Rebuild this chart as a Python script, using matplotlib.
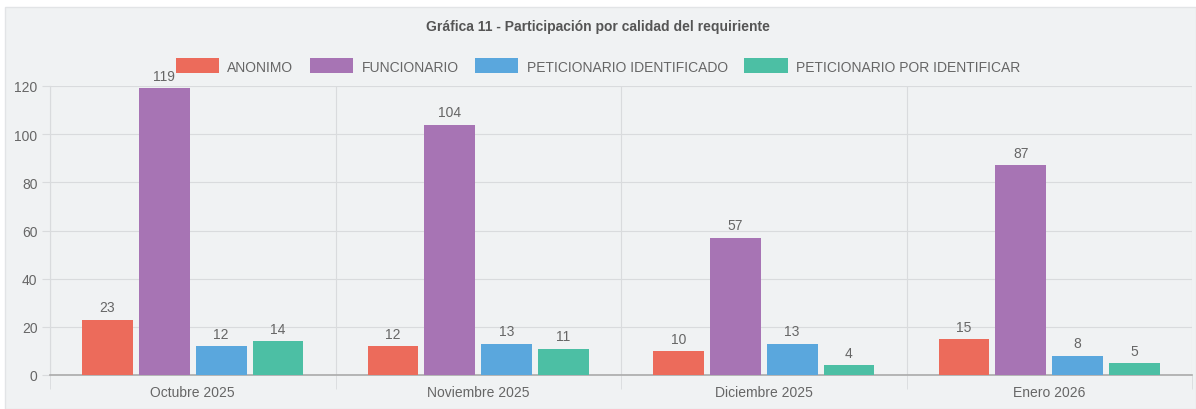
import numpy as np
import matplotlib.pyplot as plt
from matplotlib.patches import Patch, Rectangle

plt.rcParams['font.family'] = ['Liberation Sans', 'DejaVu Sans']

months = ["Octubre 2025", "Noviembre 2025", "Diciembre 2025", "Enero 2026"]
series = ["ANONIMO", "FUNCIONARIO", "PETICIONARIO IDENTIFICADO", "PETICIONARIO POR IDENTIFICAR"]
anonimo = [23, 12, 10, 15]
funcionario = [119, 104, 57, 87]
identificado = [12, 13, 13, 8]
por_identificar = [14, 11, 4, 5]
colors = ["#ec6b5b", "#a774b4", "#5aa7dd", "#4cbfa4"]

values = [anonimo, funcionario, identificado, por_identificar]

fig = plt.figure(figsize=(11.96, 4.10), dpi=100)
fig.patch.set_facecolor("white")
# gray panel behind the chart
fig.patches.append(Rectangle((5 / 1196, 0), 1 - 5 / 1196, 1 - 8 / 410,
                             transform=fig.transFigure, facecolor="#f0f2f3",
                             edgecolor="#e2e4e6", linewidth=1, zorder=-10))

ax = fig.add_axes([50 / 1196, 34 / 410, 1142 / 1196, 289 / 410])
ax.set_facecolor("none")

x = np.arange(len(months))
width = 0.178
step = 0.199
text_color = "#666666"
for i, (name, vals, c) in enumerate(zip(series, values, colors)):
    pos = x + (i - 1.5) * step
    ax.bar(pos, vals, width, color=c, label=name, zorder=3)
    for p, v in zip(pos, vals):
        ax.text(p, v + 2.2, str(v), ha="center", va="bottom", fontsize=10,
                color=text_color, zorder=4)

ax.set_xlim(-0.5, 3.5)
ax.set_ylim(0, 120)
ax.set_yticks(range(0, 121, 20))
ax.set_xticks(x)
ax.set_xticklabels(months)
ax.set_xticks(np.arange(-0.5, 4.0, 1), minor=True)

ax.grid(axis="y", color="#d9dbdd", linewidth=0.8, zorder=0)
ax.grid(axis="x", which="minor", color="#d9dbdd", linewidth=0.8, zorder=0)
ax.tick_params(axis="x", which="major", length=0, pad=7, labelsize=10, colors=text_color)
ax.tick_params(axis="x", which="minor", length=10, color="#d9dbdd")
ax.tick_params(axis="y", length=6, color="#d9dbdd", labelsize=10, labelcolor=text_color, pad=3)
for s in ["top", "right"]:
    ax.spines[s].set_visible(False)
ax.spines["left"].set_color("#d9dbdd")
ax.spines["bottom"].set_color("#aaaaaa")
ax.spines["bottom"].set_linewidth(1.2)

handles = [Patch(facecolor=c, label=n) for n, c in zip(series, colors)]
fig.legend(handles=handles, loc="center", bbox_to_anchor=(0.5, 1 - 67 / 410), ncol=4,
           frameon=False, fontsize=10, handlelength=3.1, handleheight=1.25,
           handletextpad=0.6, columnspacing=1.2, labelcolor=text_color)

fig.text(0.5, 1 - 27 / 410, "Gráfica 11 - Participación por calidad del requiriente",
         ha="center", va="center", fontsize=10, fontweight="bold", color="#555555")

fig.savefig("out.png", dpi=100)
